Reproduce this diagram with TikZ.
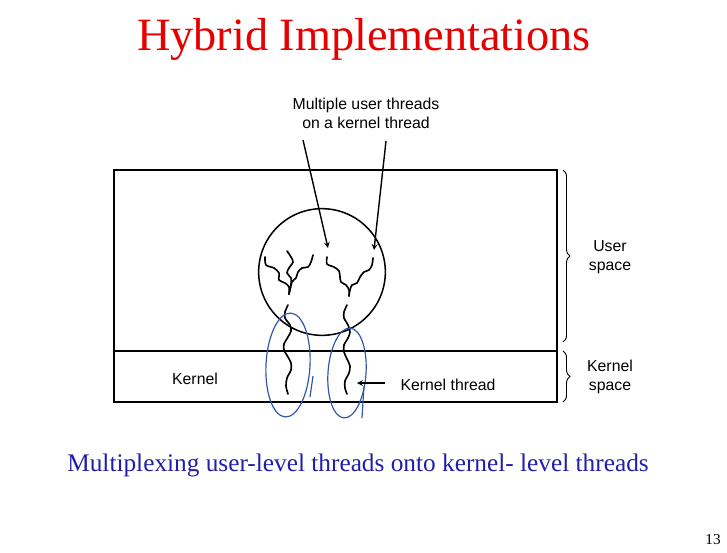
\documentclass[tikz,border=0pt]{standalone}
\usepackage{fontspec}
\setmainfont{Liberation Serif}
\setsansfont{Liberation Sans}
\usetikzlibrary{arrows,calc,decorations.pathreplacing}
\definecolor{slidered}{RGB}{230,0,0}
\definecolor{slideblue}{RGB}{35,30,170}
\definecolor{penblue}{RGB}{45,85,170}

\begin{document}
\begin{tikzpicture}[x=0.03cm,y=-0.03cm,
    >=stealth,
    lbl/.style={font=\sffamily\fontsize{13.5}{16.2}\selectfont, align=center},
    thread/.style={line width=1.4pt, line cap=round},
    pen/.style={penblue, line width=1pt},
    brc/.style={line width=0.8pt, decorate, decoration={brace, amplitude=6pt}}
  ]
  \useasboundingbox (0,0) rectangle (727,552);
  \node[slidered, font=\fontsize{39.5}{42}\selectfont] (title) at (364,39) {Hybrid Implementations};
  \node[slideblue, font=\fontsize{21.6}{24}\selectfont] (caption) at (358,465)
    {Multiplexing user-level threads onto kernel- level threads};
  \node[font=\fontsize{13}{14}\selectfont] (page) at (713,540) {13};

  % address spaces
  \coordinate (ul) at (114,170);
  \coordinate (lr) at (557,402);
  \draw[line width=1.3pt] (ul) rectangle (lr);
  \draw[line width=1.3pt] (114,351) coordinate (kl) -- (557,351) coordinate (kr);
  \node[lbl] (kernel) at (195,379) {Kernel};

  % process holding the user threads
  \node[draw, line width=1.3pt, circle, inner sep=0pt, minimum size=3.8cm] (proc) at (322,272) {};
  \draw[thread] plot[smooth] coordinates
    {(265,257) (266,265) (274,268) (279,273) (279,280) (285,283) (289,287) (289,294)};
  \draw[thread] plot[smooth] coordinates
    {(287,251) (291,257) (293,262) (289,268) (287,273) (291,278) (291,284) (289,294)};
  \draw[thread] plot[smooth] coordinates
    {(313,255) (311,262) (308,267) (302,268) (298,272) (296,278) (292,282) (289,294)};
  \draw[thread] plot[smooth] coordinates
    {(327,257) (327,264) (334,267) (339,271) (340,277) (341,282) (346,285) (349,290) (349,296)};
  \draw[thread] plot[smooth] coordinates
    {(373,258) (372,265) (369,270) (364,272) (360,277) (357,283) (352,285) (350,290) (349,296)};

  % kernel threads
  \draw[thread] plot[smooth] coordinates
    {(288,305) (285,312) (285,318) (290,325) (291,331) (288,337) (284,344) (284,350)
     (288,357) (291,363) (291,370) (287,378) (286,386) (288,394)};
  \draw[thread] plot[smooth] coordinates
    {(347,305) (344,312) (344,318) (348,325) (350,332) (348,338) (344,345) (344,352)
     (347,359) (350,366) (349,373) (345,381) (345,388) (347,394)};

  % pen marks
  \draw[pen, rotate around={-3:(288,365)}] (288,365) ellipse [x radius=22, y radius=52];
  \draw[pen] (313,376) -- (310,397);
  \draw[pen, rotate around={-4:(347,373)}] (347,373) ellipse [x radius=19, y radius=45];
  \draw[pen] (364,386) -- (362,418);

  % labels and arrows
  \node[lbl] (multi) at (366,113) {Multiple user threads\\on a kernel thread};
  \coordinate (mA) at (303,140);
  \coordinate (mB) at (386,141);
  \coordinate (tA) at (328,248);
  \coordinate (tB) at (374,250);
  \draw[->, line width=1.2pt] (mA) -- (tA);
  \draw[->, line width=1.2pt] (mB) -- (tB);
  \node[lbl] (kthr) at (448,385) {Kernel thread};
  \coordinate (kA) at (385,383);
  \coordinate (kB) at (357,383);
  \draw[->, line width=1.2pt] (kA) -- (kB);

  % braces
  \draw[brc] (563,170) coordinate (uA) -- (563,342) coordinate (uB);
  \draw[brc] (563,351) coordinate (kA2) -- (563,402) coordinate (kB2);
  \node[lbl] (user) at (610,257) {User\\space};
  \node[lbl] (kspace) at (610,377) {Kernel\\space};
\end{tikzpicture}
\end{document}
